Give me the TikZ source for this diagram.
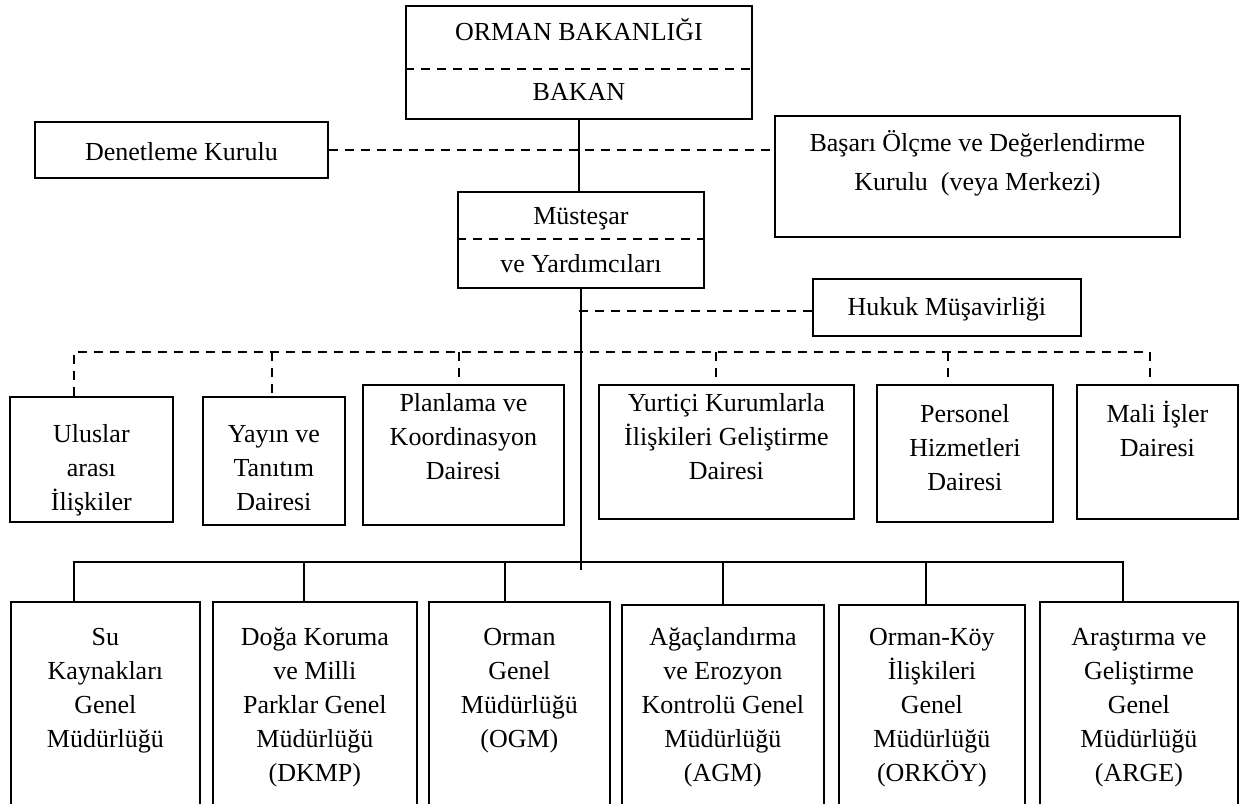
\documentclass[tikz,border=0pt]{standalone}
\usepackage{fontspec}
\setmainfont{Liberation Serif}
\newlength\unitpx
\setlength\unitpx{0.5pt}
\newcommand{\cell}[4]{\parbox[t][#2\unitpx][t]{#1\unitpx}{\centering\rule{0pt}{#3\unitpx}#4}}
\tikzset{
	unit/.style={draw, line width=0.9pt, inner sep=0pt, anchor=north west, font=\fontsize{13}{17}\selectfont},
	link/.style={line width=0.9pt},
	dlink/.style={line width=0.9pt, dash pattern=on 4.5pt off 3.5pt}
}
\begin{document}
\begin{tikzpicture}[x=0.5pt,y=-0.5pt]
	\useasboundingbox (0,0) rectangle (1240,803);
	\clip (0,0) rectangle (1240,803);
	\fill[white] (0,0) rectangle (1240,803);

	\node[unit] (bakan) at (405,5) {\cell{346}{113}{35}{ORMAN BAKANLIĞI\\[13pt]BAKAN}};
	\draw[dlink] (bakan.west |- 0,69) -- (bakan.east |- 0,69);

	\node[unit] (denetleme) at (34,121) {\cell{293}{56}{39}{Denetleme Kurulu}};
	\node[unit] (basari) at (774,115) {\cell{405}{121}{36}{Başarı Ölçme ve Değerlendirme\\[2.5pt]Kurulu\ \ (veya Merkezi)}};
	\draw[dlink] (denetleme.east) -- (denetleme.east -| basari.west);

	\node[unit] (mustesar) at (457,191) {\cell{246}{96}{33}{Müsteşar\\[7pt]ve Yardımcıları}};
	\draw[dlink] (mustesar.west |- 0,239) -- (mustesar.east |- 0,239);
	\draw[link] (bakan.south) -- (bakan.south |- mustesar.north);

	\node[unit] (hukuk) at (812,278) {\cell{268}{57}{37}{Hukuk Müşavirliği}};
	\coordinate (hk) at (579,311);
	\draw[dlink] (hk) -- (hk -| hukuk.west);

	\coordinate (trunk) at (579,570);
	\draw[link] (mustesar.south) -- (mustesar.south |- trunk);

	\node[unit] (uluslar) at (9,396) {\cell{163}{125}{46}{Uluslar\\arası\\İlişkiler}};
	\node[unit] (yayin) at (202,396) {\cell{142}{128}{46}{Yayın ve\\Tanıtım\\Dairesi}};
	\node[unit] (planlama) at (362,384) {\cell{201}{140}{27}{Planlama ve\\Koordinasyon\\Dairesi}};
	\node[unit] (yurtici) at (598,384) {\cell{255}{134}{27}{Yurtiçi Kurumlarla\\İlişkileri Geliştirme\\Dairesi}};
	\node[unit] (personel) at (876,384) {\cell{176}{137}{38}{Personel\\Hizmetleri\\Dairesi}};
	\node[unit] (mali) at (1076,384) {\cell{161}{134}{38}{Mali İşler\\Dairesi}};

	\coordinate (d1) at (74,352);
	\coordinate (d2) at (272,352);
	\coordinate (d3) at (459,352);
	\coordinate (d4) at (716,352);
	\coordinate (d5) at (948,352);
	\coordinate (d6) at (1150,352);
	\draw[dlink] (d1 |- uluslar.north) -- (d1) -- (d6) -- (d6 |- mali.north);
	\foreach \c/\b in {d2/yayin, d3/planlama, d4/yurtici, d5/personel}
		\draw[dlink] (\c) -- (\c |- \b.north);

	\node[unit] (su) at (10,601) {\cell{189}{230}{44}{Su\\Kaynakları\\Genel\\Müdürlüğü}};
	\node[unit] (doga) at (212,601) {\cell{204}{230}{44}{Doğa Koruma\\ve Milli\\Parklar Genel\\Müdürlüğü\\(DKMP)}};
	\node[unit] (ogm) at (428,601) {\cell{181}{230}{44}{Orman\\Genel\\Müdürlüğü\\(OGM)}};
	\node[unit] (agm) at (621,604) {\cell{202}{230}{41}{Ağaçlandırma\\ve Erozyon\\Kontrolü Genel\\Müdürlüğü\\(AGM)}};
	\node[unit] (orkoy) at (838,604) {\cell{186}{230}{41}{Orman-Köy\\İlişkileri\\Genel\\Müdürlüğü\\(ORKÖY)}};
	\node[unit] (arge) at (1039,601) {\cell{198}{230}{44}{Araştırma ve\\Geliştirme\\Genel\\Müdürlüğü\\(ARGE)}};

	\coordinate (b1) at (74,562);
	\coordinate (b2) at (304,562);
	\coordinate (b3) at (505,562);
	\coordinate (b4) at (723,562);
	\coordinate (b5) at (926,562);
	\coordinate (b6) at (1123,562);
	\draw[link] (b1 |- su.north) -- (b1) -- (b6) -- (b6 |- arge.north);
	\foreach \c/\b in {b2/doga, b3/ogm, b4/agm, b5/orkoy}
		\draw[link] (\c) -- (\c |- \b.north);

\end{tikzpicture}
\end{document}
